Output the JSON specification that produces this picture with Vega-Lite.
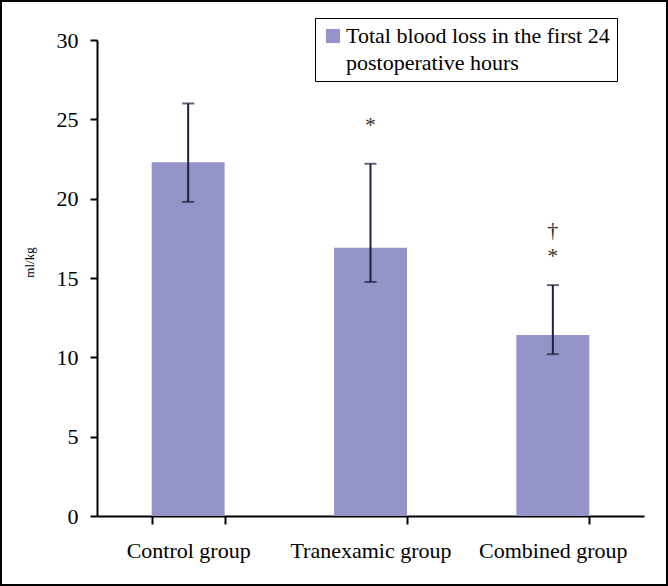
{
  "$schema": "https://vega.github.io/schema/vega-lite/v6.json",
  "width": 668,
  "height": 586,
  "autosize": {"type": "none"},
  "padding": 0,
  "background": "white",
  "config": {
    "view": {"stroke": "black", "strokeWidth": 4},
    "font": "Liberation Serif",
    "style": {
      "guide-label": {"font": "Liberation Serif", "lineHeight": 27, "fill": "black"},
      "guide-title": {"font": "Liberation Serif"}
    },
    "axis": {
      "labelFont": "Liberation Serif", "labelFontSize": 22, "labelColor": "black",
      "titleFont": "Liberation Serif", "titleFontWeight": "normal", "titleColor": "black",
      "domainColor": "black", "domainWidth": 2, "tickColor": "black", "tickWidth": 2, "grid": false
    },
    "legend": {
      "labelFont": "Liberation Serif", "labelFontSize": 22, "labelColor": "black"
    }
  },
  "datasets": {
    "bars": [
      {"group": "Control group", "mean": 22.3, "lo": 19.8, "hi": 26.0, "series": "Total blood loss in the first 24|postoperative hours"},
      {"group": "Tranexamic group", "mean": 16.9, "lo": 14.75, "hi": 22.2, "series": "Total blood loss in the first 24|postoperative hours"},
      {"group": "Combined group", "mean": 11.4, "lo": 10.2, "hi": 14.55, "series": "Total blood loss in the first 24|postoperative hours"}
    ],
    "marks": [
      {"group": "Tranexamic group", "pos": 24.2, "symbol": "*"},
      {"group": "Combined group", "pos": 17.6, "symbol": "†"},
      {"group": "Combined group", "pos": 15.95, "symbol": "*"}
    ]
  },
  "layer": [
    {
      "data": {"name": "bars"},
      "mark": {"type": "bar"},
      "encoding": {
        "x": {
          "field": "group", "type": "nominal", "title": null,
          "scale": {"domain": ["Control group", "Tranexamic group", "Combined group"], "range": [97, 644], "paddingInner": 0.6, "paddingOuter": 0.3},
          "axis": {
            "title": null, "offset": -70,
            "tickBand": "extent", "tickSize": 8,
            "labelFont": "Liberation Serif", "labelFontSize": 22, "labelColor": "black",
            "labelPadding": 16, "labelAngle": 0, "labelLimit": 400
          }
        },
        "y": {
          "field": "mean", "type": "quantitative", "title": "ml/kg",
          "scale": {"domain": [0, 30], "range": [516, 40], "nice": false},
          "axis": {
            "title": "ml/kg", "titleFont": "Liberation Serif", "titleFontSize": 13, "titleFontWeight": "normal",
            "titleColor": "black", "titleX": -61, "titleY": 262, "titleAngle": -90, "titleBaseline": "bottom", "titleAlign": "center",
            "offset": -97, "values": [0, 5, 10, 15, 20, 25, 30], "tickSize": 7,
            "labelFont": "Liberation Serif", "labelFontSize": 22, "labelColor": "black", "labelPadding": 12
          }
        },
        "color": {
          "field": "series", "type": "nominal",
          "scale": {"range": ["#9494c8"]},
          "legend": {
            "title": null, "orient": "none", "legendX": 315, "legendY": 18,
            "strokeColor": "black", "fillColor": "white", "padding": 7,
            "symbolType": "square", "symbolSize": 200, "symbolStrokeWidth": 0,
            "labelFont": "Liberation Serif", "labelFontSize": 22, "labelColor": "black",
            "labelOffset": 2, "labelLimit": 400, "labelExpr": "split(datum.label, '|')"
          }
        }
      }
    },
    {
      "data": {"name": "bars"},
      "mark": {"type": "errorbar", "color": "#1f1f40", "thickness": 2, "ticks": {"size": 12, "thickness": 2, "color": "#1f1f40"}},
      "encoding": {
        "x": {"field": "group", "type": "nominal", "title": null},
        "y": {"field": "lo", "type": "quantitative", "title": "ml/kg"},
        "y2": {"field": "hi"}
      }
    },
    {
      "data": {"name": "marks"},
      "mark": {"type": "text", "font": "Liberation Serif", "fontSize": 22, "color": "#333333", "align": "center", "baseline": "alphabetic"},
      "encoding": {
        "x": {"field": "group", "type": "nominal", "title": null},
        "y": {"field": "pos", "type": "quantitative", "title": "ml/kg"},
        "text": {"field": "symbol"}
      }
    }
  ]
}
